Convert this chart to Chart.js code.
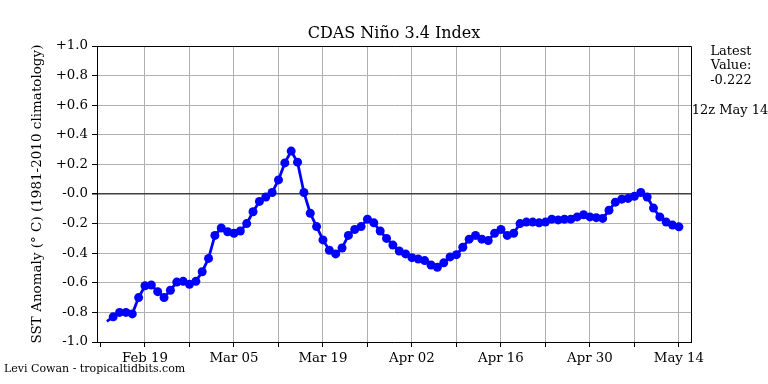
<!DOCTYPE html>
<html lang="en">
<head>
<meta charset="UTF-8">
<title>CDAS Niño 3.4 Index</title>
<style>
  html, body { margin: 0; padding: 0; background: #ffffff; }
  #wrap { width: 768px; height: 384px; }
</style>
</head>
<body>
<div id="wrap"><canvas id="ninoChart" width="768" height="384"></canvas></div>
<script src="https://cdn.jsdelivr.net/npm/chart.js@4/dist/chart.umd.min.js"></script>
<script>
// days are counted from Feb 19 2023 (first labelled tick); first value is Feb 13
const firstDay = -6;
const anomaly = [
  -0.86,
  -0.83, -0.80, -0.80, -0.81, -0.70, -0.62, -0.615, -0.66, -0.70, -0.65,
  -0.595, -0.59, -0.61, -0.59, -0.525, -0.435, -0.28, -0.23, -0.255, -0.265,
  -0.25, -0.20, -0.12, -0.05, -0.02, 0.01, 0.095, 0.21, 0.29, 0.215,
  0.01, -0.13, -0.22, -0.31, -0.38, -0.405, -0.365, -0.28, -0.24, -0.22,
  -0.17, -0.195, -0.25, -0.30, -0.345, -0.385, -0.405, -0.43, -0.44, -0.45,
  -0.48, -0.495, -0.465, -0.425, -0.41, -0.36, -0.305, -0.28, -0.305, -0.315,
  -0.265, -0.24, -0.28, -0.265, -0.20, -0.19, -0.19, -0.195, -0.19, -0.17,
  -0.175, -0.17, -0.17, -0.155, -0.14, -0.155, -0.16, -0.165, -0.11, -0.055,
  -0.035, -0.03, -0.015, 0.01, -0.02, -0.095, -0.155, -0.19, -0.21, -0.222
];
const xTickDays = [-7, 0, 7, 14, 21, 28, 35, 42, 49, 56, 63, 70, 77, 84];
const xTickLabels = ['', 'Feb 19', '', 'Mar 05', '', 'Mar 19', '', 'Apr 02', '', 'Apr 16', '', 'Apr 30', '', 'May 14'];
const yTicks = [-1, -0.8, -0.6, -0.4, -0.2, 0, 0.2, 0.4, 0.6, 0.8, 1];
const yTickLabels = ['-1.0', '-0.8', '-0.6', '-0.4', '-0.2', '-0.0', '+0.2', '+0.4', '+0.6', '+0.8', '+1.0'];
const latestValue = '-0.222';
const latestTime = '12z May 14';

const serif = '"DejaVu Serif", serif';

const points = anomaly.map((v, i) => ({ x: firstDay + i, y: v }));

const extras = {
    id: 'extras',
    afterDraw(chart) {
        const ctx = chart.ctx;
        const a = chart.chartArea;
        ctx.save();
        // frame top / right
        ctx.strokeStyle = '#000';
        ctx.lineWidth = 1;
        ctx.beginPath();
        const t = Math.floor(a.top) + 0.5, r = Math.floor(a.right) + 0.5;
        ctx.moveTo(a.left, t);
        ctx.lineTo(r, t);
        ctx.lineTo(r, a.bottom);
        ctx.stroke();

        ctx.fillStyle = '#000';
        ctx.textBaseline = 'middle';
        ctx.textAlign = 'center';
        ctx.font = '16px ' + serif;
        ctx.fillText('CDAS Niño 3.4 Index', (a.left + a.right) / 2, 34);

        ctx.font = '13px ' + serif;
        ctx.fillText('Latest', 731, 52);
        ctx.fillText('Value:', 731, 66);
        ctx.fillText(latestValue, 731, 81);
        ctx.fillText(latestTime, 730, 111);

        ctx.textAlign = 'left';
        ctx.font = '11px ' + serif;
        ctx.fillText('Levi Cowan - tropicaltidbits.com', 4, 369);
        ctx.restore();
    }
};

const chart = new Chart(document.getElementById('ninoChart'), {
    type: 'line',
    data: {
        datasets: [{
            data: points,
            borderColor: '#0000ff',
            backgroundColor: '#0000ff',
            borderWidth: 2.8,
            pointRadius: points.map((p, i) => i === 0 ? 0 : 4.5),
            pointBorderWidth: 0,
            pointHoverRadius: 4.5,
            tension: 0,
            fill: false
        }]
    },
    options: {
        responsive: false,
        devicePixelRatio: 1,
        animation: false,
        layout: { padding: { top: 46, right: 77, bottom: 0, left: 0 } },
        scales: {
            x: {
                type: 'linear',
                min: -7.55,
                max: 85.9,
                afterBuildTicks: axis => { axis.ticks = xTickDays.map(v => ({ value: v })); },
                afterFit: scale => { scale.height = 42; },
                ticks: {
                    autoSkip: false,
                    maxRotation: 0,
                    minRotation: 0,
                    padding: 4,
                    color: '#000',
                    font: { family: serif, size: 13.33 },
                    callback: v => xTickLabels[xTickDays.indexOf(v)] || ''
                },
                grid: {
                    color: c => (c.tick && c.tick.value === -7) ? 'rgba(0,0,0,0)' : '#b0b0b0',
                    tickColor: '#000',
                    tickLength: 5,
                    lineWidth: 1
                },
                border: { color: '#000', width: 1 }
            },
            y: {
                min: -1,
                max: 1,
                afterBuildTicks: axis => { axis.ticks = yTicks.map(v => ({ value: v })); },
                afterFit: scale => { scale.width = 97; },
                ticks: {
                    padding: 4,
                    color: '#000',
                    font: { family: serif, size: 13.33 },
                    callback: (v, i) => yTickLabels[i]
                },
                grid: {
                    color: c => (c.tick && c.tick.value === 0) ? '#404040' : '#b0b0b0',
                    lineWidth: c => (c.tick && c.tick.value === 0) ? 1.5 : 1,
                    tickColor: '#000',
                    tickLength: 5
                },
                border: { color: '#000', width: 1 },
                title: {
                    display: true,
                    text: 'SST Anomaly (° C) (1981-2010 climatology)',
                    color: '#000',
                    font: { family: serif, size: 13.5 },
                    padding: { top: 29, bottom: 0 }
                }
            }
        },
        plugins: {
            legend: { display: false },
            tooltip: { enabled: false },
            title: { display: false }
        }
    },
    plugins: [extras]
});
</script>
</body>
</html>
